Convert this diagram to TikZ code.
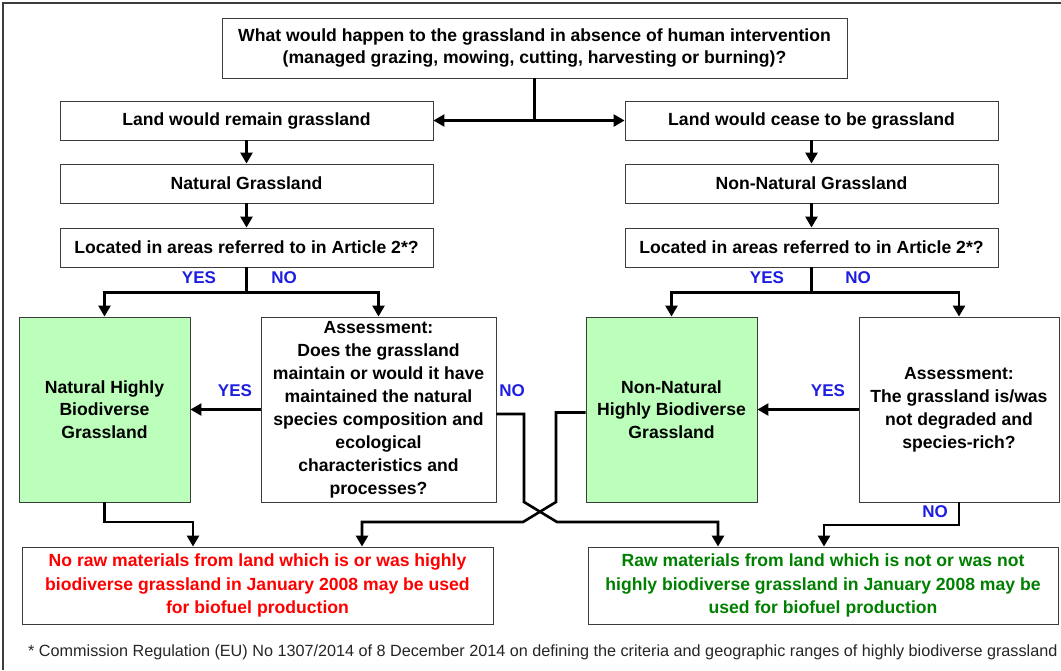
\documentclass[tikz,border=0pt]{standalone}
\usepackage{fontspec}
\setmainfont{Liberation Sans}
\usetikzlibrary{arrows.meta}
\definecolor{lblue}{RGB}{30,30,225}
\definecolor{dgreen}{RGB}{0,128,0}
\definecolor{lgreen}{RGB}{187,255,187}
\definecolor{bord}{RGB}{60,60,60}
\begin{document}
\begin{tikzpicture}[x=1pt,y=-1pt,
  box/.style={draw=bord, line width=0.9pt, fill=white, inner sep=0pt, align=center,
    font=\fontsize{17.6}{22}\selectfont\bfseries},
  gbox/.style={box, fill=lgreen},
  lbl/.style={text=lblue, font=\fontsize{17}{19}\selectfont\bfseries, inner sep=0pt},
  ln/.style={line width=2.6pt},
  arr/.style={line width=2.6pt, -{Triangle[length=11pt,width=12pt]}}]
\useasboundingbox (0,0) rectangle (1061,670);
\fill[white] (0,0) rectangle (1061,670);
\draw[bord, line width=1.2pt] (3,670) -- (3,3) -- (1061,3);

% boxes
\node[box, minimum width=625, minimum height=60] (q) at (534.5,48)
  {What would happen to the grassland in absence of human intervention\\(managed grazing, mowing, cutting, harvesting or burning)?};
\node[box, minimum width=373, minimum height=39] (lr) at (246.5,120.5) {Land would remain grassland};
\node[box, minimum width=373, minimum height=39] (lc) at (811.5,120.5) {Land would cease to be grassland};
\node[box, minimum width=373, minimum height=39] (ng) at (246.5,183.5) {Natural Grassland};
\node[box, minimum width=373, minimum height=39] (nng) at (811.5,183.5) {Non-Natural Grassland};
\node[box, minimum width=373, minimum height=39] (la) at (246.5,247.5) {Located in areas referred to in Article 2*?};
\node[box, minimum width=373, minimum height=39] (ra) at (811.5,247.5) {Located in areas referred to in Article 2*?};
\node[gbox, minimum width=171, minimum height=185, font=\fontsize{17.6}{22.5}\selectfont\bfseries] (nhb) at (104.5,409.5)
  {Natural Highly\\Biodiverse\\Grassland};
\node[box, minimum width=235, minimum height=185, font=\fontsize{17.6}{23}\selectfont\bfseries] (as1) at (378.5,409.5)
  {Assessment:\\Does the grassland\\maintain or would it have\\maintained the natural\\species composition and\\ecological\\characteristics and\\processes?};
\node[gbox, minimum width=171, minimum height=185, font=\fontsize{17.6}{22.5}\selectfont\bfseries] (nnhb) at (671.5,409.5)
  {Non-Natural\\Highly Biodiverse\\Grassland};
\node[box, minimum width=200, minimum height=185, font=\fontsize{17.6}{23}\selectfont\bfseries] (as2) at (959,409.5)
  {Assessment:\\The grassland is/was\\not degraded and\\species-rich?};
\node[box, minimum width=471, minimum height=77, text=red, font=\fontsize{17.6}{23.5}\selectfont\bfseries] (no) at (257.5,585.5)
  {No raw materials from land which is or was highly\\biodiverse grassland in January 2008 may be used\\for biofuel production};
\node[box, minimum width=470, minimum height=77, text=dgreen, font=\fontsize{17.6}{23.5}\selectfont\bfseries] (yes) at (823,585.5)
  {Raw materials from land which is not or was not\\highly biodiverse grassland in January 2008 may be\\used for biofuel production};

% top split
\draw[ln] (q.south) -- (q.south |- lr.east) coordinate (j);
\draw[arr] (j) -- (lr.east);
\draw[arr] (j) -- (lc.west);
\draw[arr] (lr.south) -- (ng.north);
\draw[arr] (lc.south) -- (nng.north);
\draw[arr] (ng.south) -- (la.north);
\draw[arr] (nng.south) -- (ra.north);

% left split
\draw[ln] (la.south) -- ++(0,25) coordinate (s1);
\draw[arr] (s1) -| (nhb.north);
\draw[arr] (s1) -| (as1.north);
% right split
\draw[ln] (ra.south) -- ++(0,25) coordinate (s2);
\draw[arr] (s2) -| (nnhb.north);
\draw[arr] (s2) -| (as2.north);

% side arrows
\draw[arr] (as1.west) -- (nhb.east);
\draw[arr] (as2.west) -- (nnhb.east);

% bottom connectors
\draw[arr] (nhb.south) -- (104.5,522) -- (193,522) -- (no.north -| 193,0);
\draw[arr] ([yshift=-4.5pt]as1.east) -- (524,414) -- (524,502) -- (557,522) -- (718,522) -- (yes.north -| 718,0);
\draw[arr] ([yshift=-3pt]nnhb.west) -- (556,412.5) -- (556,502) -- (523,522) -- (362,522) -- (no.north -| 362,0);
\draw[arr] (as2.south) -- (959,525) -- (824,525) -- (yes.north -| 824,0);

% labels
\node[lbl] (y1) at (199,278) {YES};
\node[lbl] (n1) at (284,278) {NO};
\node[lbl] (y2) at (235,391) {YES};
\node[lbl] (n2) at (512,391) {NO};
\node[lbl] (y3) at (767,278) {YES};
\node[lbl] (n3) at (858,278) {NO};
\node[lbl] (y4) at (828,391) {YES};
\node[lbl] (n4) at (935,512) {NO};

% footnote
\node[anchor=west, inner sep=0pt, font=\fontsize{16.2}{18}\selectfont, text=black!85] (fn) at (28,652)
  {* Commission Regulation (EU) No 1307/2014 of 8 December 2014 on defining the criteria and geographic ranges of highly biodiverse grassland};
\end{tikzpicture}
\end{document}
